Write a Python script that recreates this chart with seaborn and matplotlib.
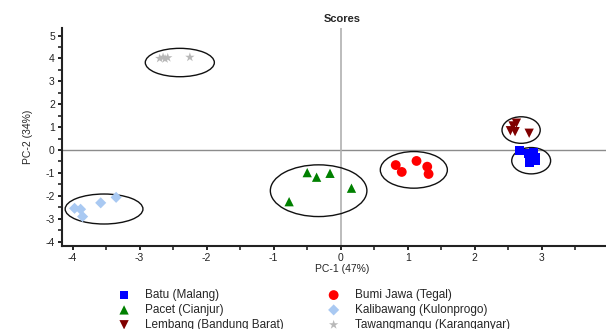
import matplotlib
matplotlib.use("Agg")
import matplotlib.pyplot as plt
from matplotlib.patches import Ellipse
from matplotlib.ticker import MultipleLocator
import seaborn as sns
import pandas as pd

# ---- data ----
groups = ["Batu (Malang)", "Pacet (Cianjur)", "Lembang (Bandung Barat)",
          "Bumi Jawa (Tegal)", "Kalibawang (Kulonprogo)", "Tawangmangu (Karanganyar)"]

batu_x = [2.67, 2.80, 2.87, 2.90, 2.82, 2.91]
batu_y = [-0.03, -0.15, -0.12, -0.32, -0.55, -0.48]
pacet_x = [-0.50, -0.36, -0.16, 0.16, -0.77]
pacet_y = [-0.99, -1.19, -1.02, -1.67, -2.26]
lembang_x = [2.62, 2.57, 2.53, 2.60, 2.81]
lembang_y = [1.17, 1.05, 0.84, 0.80, 0.73]
bumi_x = [0.82, 1.13, 1.29, 0.91, 1.31]
bumi_y = [-0.66, -0.48, -0.73, -0.96, -1.05]
kali_x = [-3.97, -3.88, -3.85, -3.58, -3.35]
kali_y = [-2.55, -2.59, -2.91, -2.31, -2.07]
tawang_x = [-2.70, -2.65, -2.62, -2.58, -2.25]
tawang_y = [4.00, 4.05, 3.98, 4.03, 4.05]

# confidence ellipses: centre x, centre y, width, height
ell_cx = [2.84, -0.33, 2.69, 1.09, -3.53, -2.40]
ell_cy = [-0.47, -1.78, 0.87, -0.87, -2.58, 3.82]
ell_w = [0.58, 1.44, 0.57, 1.00, 1.16, 1.03]
ell_h = [1.15, 2.26, 1.16, 1.60, 1.31, 1.24]

xs = [batu_x, pacet_x, lembang_x, bumi_x, kali_x, tawang_x]
ys = [batu_y, pacet_y, lembang_y, bumi_y, kali_y, tawang_y]

colors = ["#0000ff", "#008000", "#800000", "#ff0000", "#a9c9f2", "#b8b8b8"]
markers = ["s", "^", "v", "o", "D", "*"]

rows = []
for g, xv, yv in zip(groups, xs, ys):
    for a, b in zip(xv, yv):
        rows.append({"PC1": a, "PC2": b, "group": g})
df = pd.DataFrame(rows)

# ---- plotting ----
sns.set_style("white")
plt.rcParams["font.family"] = ["Liberation Sans", "DejaVu Sans"]
plt.rcParams["axes.unicode_minus"] = False

fig = plt.figure(figsize=(6.06, 3.29), dpi=100)
ax = fig.add_axes([0.102, 0.252, 0.925, 0.663])

ax.axhline(0, color="#8c8c8c", lw=1.0, zorder=0)
ax.axvline(0, color="#b0b0b0", lw=1.2, zorder=0)

sizes = {"s": 40, "^": 45, "v": 45, "o": 50, "D": 32, "*": 50}
for g, c, m in zip(groups, colors, markers):
    sub = df[df["group"] == g]
    sns.scatterplot(data=sub, x="PC1", y="PC2", color=c, marker=m,
                    s=sizes[m], edgecolor="none", linewidth=0, ax=ax,
                    label=g, zorder=3)

for cx, cy, w, h in zip(ell_cx, ell_cy, ell_w, ell_h):
    ax.add_patch(Ellipse((cx, cy), w, h, fill=False, edgecolor="#111111",
                         lw=1.0, zorder=2))

ax.set_xlim(-4.16, 4.2)
ax.set_ylim(-4.2, 5.33)
ax.xaxis.set_major_locator(MultipleLocator(1))
ax.xaxis.set_minor_locator(MultipleLocator(0.5))
ax.yaxis.set_major_locator(MultipleLocator(1))
ax.yaxis.set_minor_locator(MultipleLocator(0.5))
ax.tick_params(axis="both", which="major", direction="out", length=3,
               width=1.2, labelsize=7.5, pad=2, colors="black",
               bottom=True, left=True)
ax.tick_params(axis="both", which="minor", direction="out", length=3,
               width=1.2, bottom=True, left=True)
ax.tick_params(axis="both", labelcolor="#222222")

for s in ["top", "right"]:
    ax.spines[s].set_visible(False)
for s in ["left", "bottom"]:
    ax.spines[s].set_color("#222222")
    ax.spines[s].set_linewidth(1.5)

ax.set_xlabel("PC-1 (47%)", fontsize=7.5, labelpad=1)
ax.set_ylabel("PC-2 (34%)", fontsize=7.5, labelpad=9)
ax.set_title("Scores", fontsize=8, pad=4, fontweight="semibold")

handles, labels = ax.get_legend_handles_labels()
if ax.get_legend():
    ax.get_legend().remove()
fig.legend(handles, labels, loc="upper left", bbox_to_anchor=(0.195, 0.121),
           ncol=2, frameon=False, fontsize=8.5, handlelength=1.0,
           handletextpad=1.3, columnspacing=3.7, labelspacing=0.24,
           borderaxespad=0, borderpad=0)

fig.savefig("out.png", dpi=100)
